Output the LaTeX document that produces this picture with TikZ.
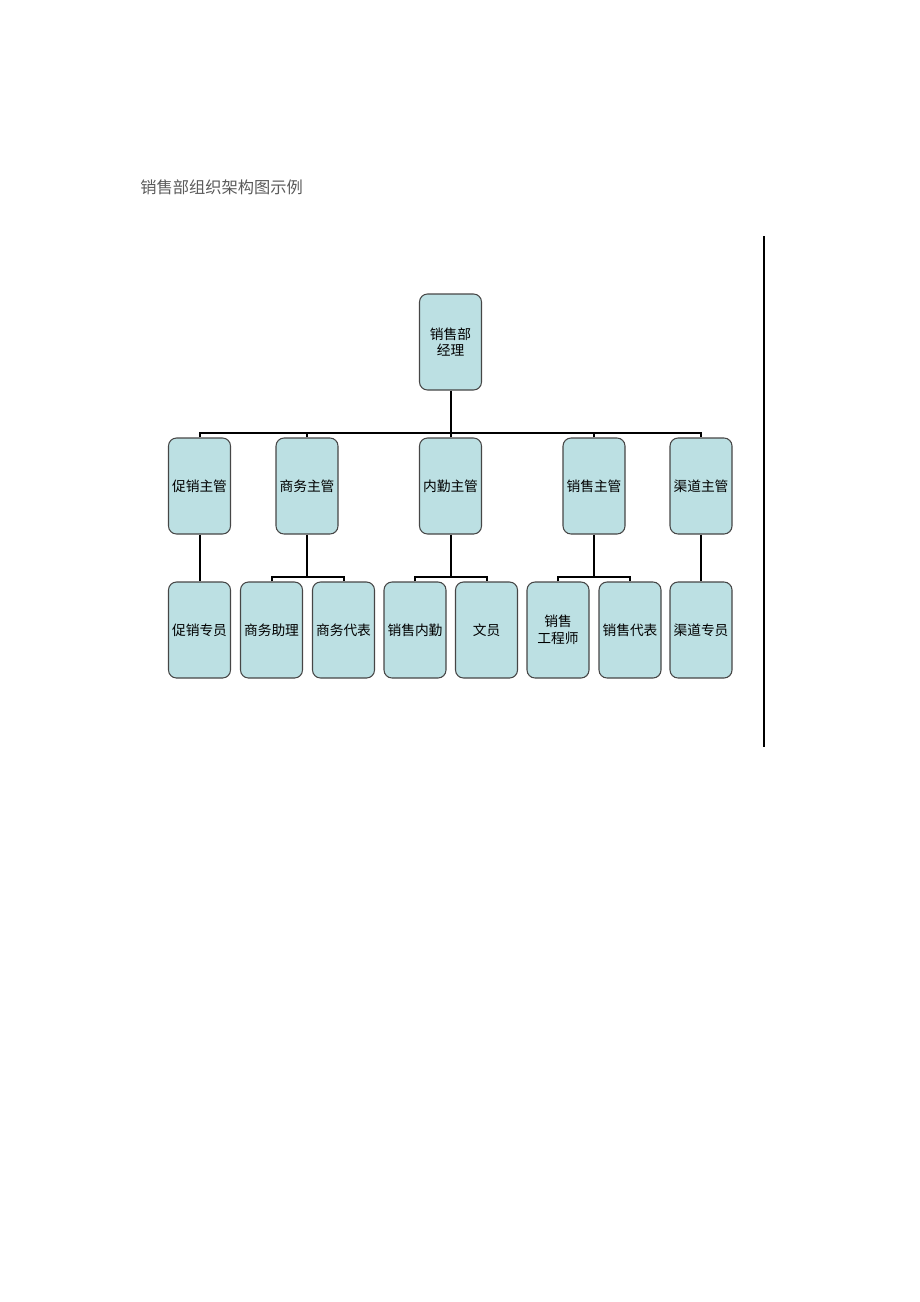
\documentclass[tikz,border=0pt]{standalone}
\usepackage{fontspec}
\newfontfamily\cjk{Noto Sans CJK SC}
\usepackage{tikz}
\usetikzlibrary{positioning}
\definecolor{boxfill}{RGB}{188,224,227}
\definecolor{boxline}{RGB}{70,70,70}
\definecolor{titlegray}{RGB}{90,90,90}
\tikzset{
  post/.style={draw=boxline, fill=boxfill, line width=0.8pt, rounded corners=6pt,
    minimum width=46.5pt, minimum height=72pt, inner sep=1pt, align=center,
    font=\cjk\fontsize{10.3}{12.5}\selectfont},
  link/.style={draw=black, line width=1.5pt},
  heading/.style={anchor=west, text=titlegray, inner sep=0pt, font=\cjk\fontsize{12.2}{14}\selectfont}
}

\begin{document}
\begin{tikzpicture}[x=0.75pt, y=-0.75pt]
  \useasboundingbox (0,0) rectangle (920,1302);
  % title
  \node[heading] (title) at (140,187) {销售部组织架构图示例};
  % right margin rule
  \coordinate (rtop) at (764,236);
  \coordinate (rbot) at (764,747);
  \draw[line width=1.5pt] (rtop) -- (rbot);

  % head
  \node[post] (mgr) at (450.5,342) {销售部\\经理};

  % supervisors
  \node[post] (c1) at (199.5,486) {促销主管};
  \node[post] (c2) at (307,486) {商务主管};
  \node[post] (c3) at (450.5,486) {内勤主管};
  \node[post] (c4) at (594,486) {销售主管};
  \node[post] (c5) at (701,486) {渠道主管};

  % staff
  \node[post] (s1) at (199.5,630) {促销专员};
  \node[post] (s2) at (271.5,630) {商务助理};
  \node[post] (s3) at (343.5,630) {商务代表};
  \node[post] (s4) at (415,630) {销售内勤};
  \node[post] (s5) at (486.5,630) {文员};
  \node[post] (s6) at (558,630) {销售\\工程师};
  \node[post] (s7) at (630,630) {销售代表};
  \node[post] (s8) at (701,630) {渠道专员};

  % level 1 bus
  \coordinate (bus1) at (450.5,433);
  \draw[link] (mgr.south) -- (bus1);
  \draw[link] (c1.north) -- (c1.north |- bus1) -- (c5.north |- bus1) -- (c5.north);
  \foreach \n in {c2,c3,c4}
    \draw[link] (\n.north) -- (\n.north |- bus1);

  % level 2 buses
  \coordinate (bus2) at (0,577);
  \draw[link] (c1.south) -- (s1.north);
  \draw[link] (c5.south) -- (s8.north);
  \draw[link] (c2.south) -- (c2.south |- bus2);
  \draw[link] (s2.north) -- (s2.north |- bus2) -- (s3.north |- bus2) -- (s3.north);
  \draw[link] (c3.south) -- (c3.south |- bus2);
  \draw[link] (s4.north) -- (s4.north |- bus2) -- (s5.north |- bus2) -- (s5.north);
  \draw[link] (c4.south) -- (c4.south |- bus2);
  \draw[link] (s6.north) -- (s6.north |- bus2) -- (s7.north |- bus2) -- (s7.north);
\end{tikzpicture}
\end{document}
